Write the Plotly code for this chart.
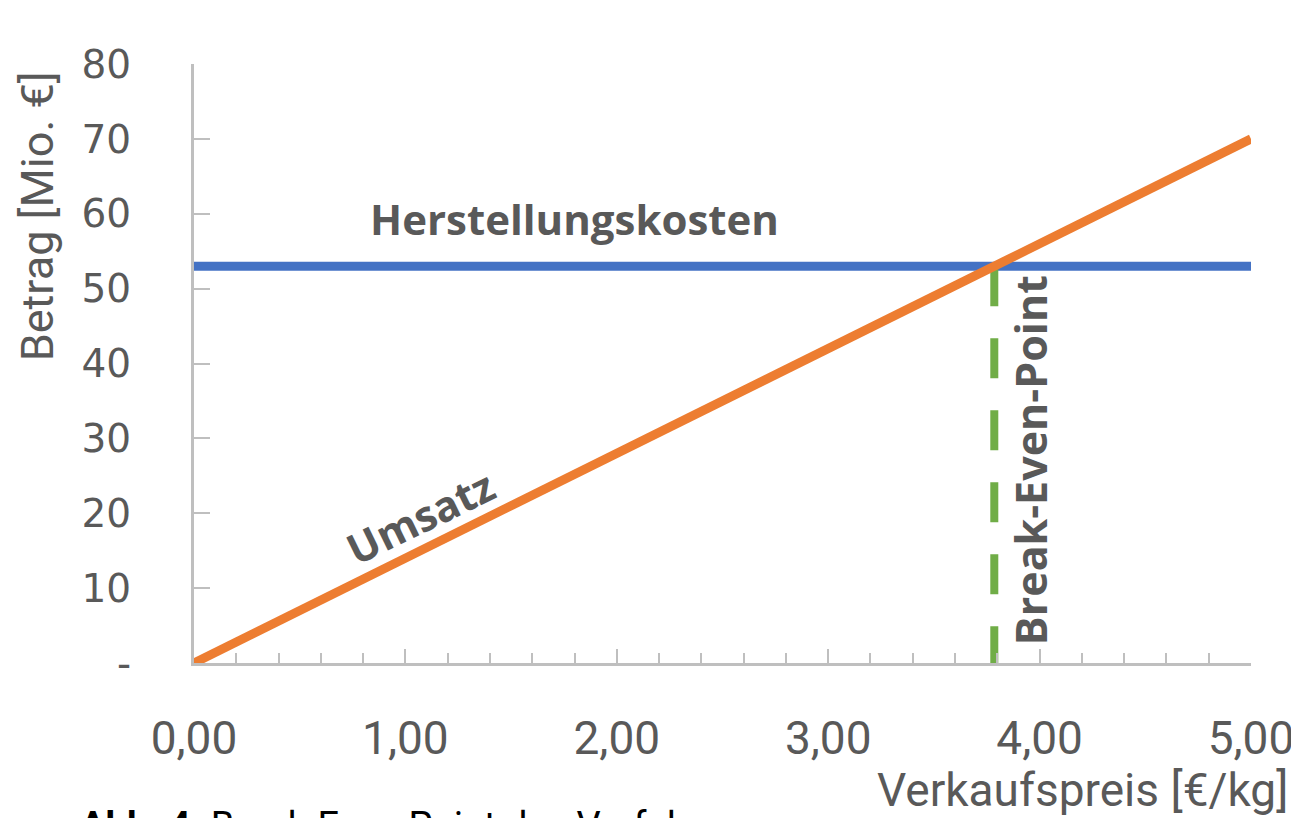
import plotly.graph_objects as go

# Data
preis = [0.0, 5.0]                 # Verkaufspreis [€/kg]
umsatz = [0.0, 70.0]               # Umsatz [Mio. €]
kosten = [53.0, 53.0]              # Herstellungskosten [Mio. €]
break_even_x = [53.0 / 14.0, 53.0 / 14.0]
break_even_y = [53.0, 0.0]

x_tickvals = [0, 1, 2, 3, 4, 5]
x_ticktext = ["0,00", "1,00", "2,00", "3,00", "4,00", "5,00"]
y_tickvals = [0, 10, 20, 30, 40, 50, 60, 70, 80]
y_ticktext = ["-", "10", "20", "30", "40", "50", "60", "70", "80"]

GREY = "#595959"
AXIS = "#BFBFBF"
NARROW = "Roboto, Open Sans, sans-serif"

fig = go.Figure()
fig.add_trace(go.Scatter(x=preis, y=kosten, mode="lines",
                         line=dict(color="#4472C4", width=9), name="Herstellungskosten"))
fig.add_trace(go.Scatter(x=break_even_x, y=break_even_y, mode="lines",
                         line=dict(color="#70AD47", width=8, dash="40px,32px"), name="Break-Even-Point"))
fig.add_trace(go.Scatter(x=preis, y=umsatz, mode="lines",
                         line=dict(color="#ED7D31", width=9), name="Umsatz"))

lbl_font = dict(family="Open Sans, DejaVu Sans, sans-serif", size=42, color=GREY)
fig.add_annotation(x=1.80, y=59.4, text="<b>Herstellungskosten</b>", showarrow=False,
                   font=lbl_font)
fig.add_annotation(x=1.07, y=19.6, text="<b>Umsatz</b>", showarrow=False,
                   textangle=-26, font=lbl_font)
fig.add_annotation(x=3.955, y=27.1, text="<b>Break-Even-Point</b>", showarrow=False,
                   textangle=-90, font=dict(family="Open Sans, DejaVu Sans, sans-serif", size=43, color=GREY))

# Axis titles as annotations (positioned like the reference)
fig.add_annotation(x=1.037, xref="paper", xanchor="right", y=-0.212, yref="paper", yanchor="middle",
                   text="Verkaufspreis [€/kg]", showarrow=False,
                   font=dict(family=NARROW, size=46, color=GREY))
fig.add_annotation(x=-0.148, xref="paper", xanchor="center", y=0.745, yref="paper", yanchor="middle",
                   text="Betrag [Mio. €]", showarrow=False, textangle=-90,
                   font=dict(family=NARROW, size=45, color=GREY))

# Caption (cut at bottom edge, as in the reference)
fig.add_annotation(x=-0.110, xref="paper", xanchor="left", y=-0.232, yref="paper", yanchor="top",
                   text="<b>Abb. 4:</b> Break-Even-Point des Verfahrens", showarrow=False,
                   font=dict(family=NARROW, size=38, color="#000000"))

fig.update_layout(
    width=1291, height=810,
    margin=dict(l=186, r=48, t=56, b=155, autoexpand=False),
    plot_bgcolor="white", paper_bgcolor="white",
    showlegend=False,
    xaxis=dict(range=[0, 5], tickvals=x_tickvals, ticktext=x_ticktext, automargin=False,
               showgrid=False, zeroline=False, showline=True, linecolor=AXIS, linewidth=3,
               ticks="inside", ticklen=14, tickwidth=2, tickcolor=AXIS,
               minor=dict(dtick=0.2, ticks="inside", ticklen=10, tickwidth=2, tickcolor=AXIS),
               ticklabelstandoff=33,
               tickfont=dict(family=NARROW, size=46, color=GREY)),
    yaxis=dict(range=[0, 80], tickvals=y_tickvals, ticktext=y_ticktext, automargin=False,
               showgrid=False, zeroline=False, showline=True, linecolor=AXIS, linewidth=3,
               ticks="inside", ticklen=16, tickwidth=2, tickcolor=AXIS,
               ticklabelstandoff=52,
               tickfont=dict(family="DejaVu Sans, sans-serif", size=39, color=GREY)),
)

fig.write_html("out.html")
